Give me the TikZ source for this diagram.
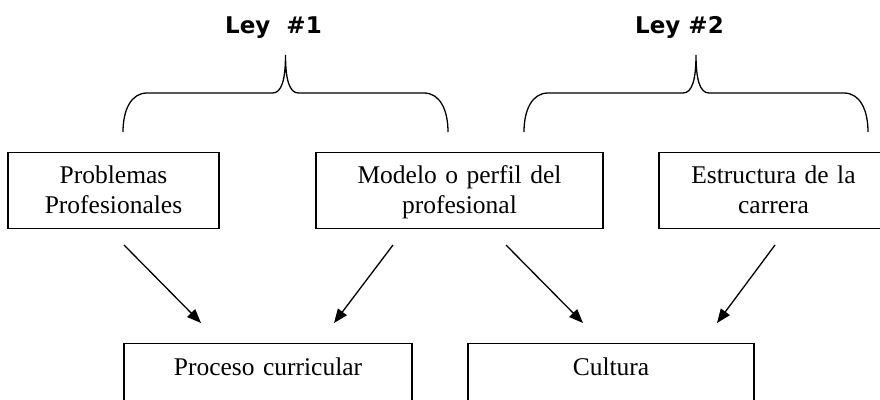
\documentclass[tikz,border=0pt]{standalone}
\usepackage{fontspec}
\setmainfont{Liberation Serif}
\newfontfamily\leyfont{DejaVu Sans}
\usetikzlibrary{arrows.meta}
\tikzset{
  caja/.style={draw,line width=1.4pt,align=center,inner xsep=0pt,inner ysep=0pt,anchor=north,font=\fontsize{25.5}{30}\selectfont},
  llave/.style={line width=1.3pt},
  flecha/.style={line width=1.3pt,-{Triangle[length=14pt,width=11pt]}},
  titulo/.style={anchor=base,inner sep=0pt,font=\leyfont\bfseries\fontsize{23}{27}\selectfont}
}
\begin{document}
\begin{tikzpicture}[x=1pt,y=-1pt]
  \useasboundingbox (0,0) rectangle (880,399);
  % leyes
  \node[titulo] (ley1) at (273.5,33) {Ley\ \ \#1};
  \node[titulo] (ley2) at (679.5,33) {Ley \#2};
  \foreach \l/\m/\r in {123/285.5/448, 524/696/868} {
    \draw[llave] (\l,132) .. controls (\l,110) and ({\l+8},93) .. ({\l+24},93) -- ({\m-13},93)
      .. controls ({\m-4},93) and (\m,80) .. (\m,55)
      .. controls (\m,80) and ({\m+4},93) .. ({\m+13},93) -- ({\r-24},93)
      .. controls ({\r-8},93) and (\r,110) .. (\r,132);
  }
  % cajas de arriba
  \node[caja,text width=211pt,text height=31pt,text depth=45pt] (prob) at (113.5,152) {Problemas\\Profesionales};
  \node[caja,text width=287pt,text height=31pt,text depth=45pt] (modelo) at (459.5,152) {Modelo o perfil del\\profesional};
  \node[caja,text width=229pt,text height=31pt,text depth=45pt] (estr) at (773.5,152) {Estructura de la\\carrera};
  % cajas de abajo
  \node[caja,text width=288pt,text height=32pt,text depth=45pt] (proc) at (268,343) {Proceso curricular};
  \node[caja,text width=286pt,text height=32pt,text depth=45pt] (cult) at (611,343) {Cultura};
  % flechas
  \coordinate (p1) at (124,245);  \coordinate (q1) at (201,323);
  \coordinate (p2) at (393,245);  \coordinate (q2) at (334,323);
  \coordinate (p3) at (506,245);  \coordinate (q3) at (583,323);
  \coordinate (p4) at (775,245);  \coordinate (q4) at (717,323);
  \foreach \i in {1,2,3,4}
    \draw[flecha] (p\i) -- (q\i);
\end{tikzpicture}
\end{document}
